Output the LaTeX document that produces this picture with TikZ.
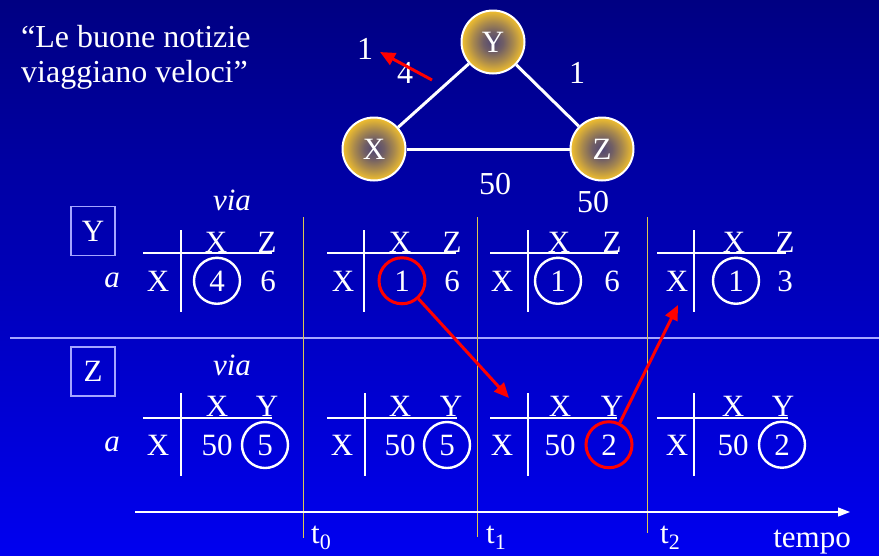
\documentclass[tikz,border=0pt]{standalone}
\usepackage{fontspec}
\setmainfont{Liberation Serif}
\usetikzlibrary{arrows.meta,calc}

\definecolor{bgtop}{RGB}{0,0,130}
\definecolor{bgbot}{RGB}{0,0,240}
\definecolor{ballyellow}{RGB}{242,192,45}
\definecolor{balldark}{RGB}{80,70,115}
\definecolor{sepline}{RGB}{165,165,255}
\definecolor{tickyellow}{RGB}{220,200,80}
\pgfdeclareradialshading{ballshade}{\pgfpoint{0bp}{0bp}}{%
  color(0bp)=(balldark); color(8bp)=(balldark!80!ballyellow);
  color(16bp)=(ballyellow!55!balldark); color(25bp)=(ballyellow);
  color(50bp)=(ballyellow)}

\begin{document}
\begin{tikzpicture}[x=1pt, y=-1pt,
    txt/.style={inner sep=0pt, text=white, font=\fontsize{31pt}{37pt}\selectfont},
    big/.style={txt, font=\fontsize{32pt}{38pt}\selectfont},
    cell/.style={txt, anchor=base},
    hit/.style={cell, circle, draw=white, line width=2.4pt, minimum size=46pt},
    redhit/.style={hit, draw=red, line width=3pt},
    router/.style={circle, draw=white, line width=2pt, shading=ballshade,
                   minimum size=63pt, inner sep=0pt, text=white,
                   font=\fontsize{31pt}{37pt}\selectfont},
    link/.style={white, line width=3pt},
    rule/.style={white, line width=2pt},
    tline/.style={tickyellow, line width=1pt},
    news/.style={red, line width=3pt, -{Triangle[length=15pt,width=13pt]}},
    tag/.style={draw=sepline, line width=1.2pt, inner sep=0pt,
                minimum width=44pt, minimum height=49pt, text=white,
                font=\fontsize{31pt}{37pt}\selectfont}
]

% background
\useasboundingbox (0,0) rectangle (879,555);
\shade[top color=bgtop, bottom color=bgbot] (0,0) rectangle (879,555);

% motto
\node[big, anchor=base west] (motto1) at (21,47) {“Le buone notizie};
\node[big, anchor=base west] (motto2) at (21,82) {viaggiano veloci”};

% the three routers
\node[router] (Y) at (493,42) {Y};
\node[router] (X) at (374,149) {X};
\node[router] (Z) at (602,149) {Z};
\draw[link] (X) -- (Y);
\draw[link] (Y) -- (Z);
\draw[link] (X) -- (Z);

% link costs
\node[big] (c1new) at (365,49) {1};
\node[big] (c1old) at (405,73) {4};
\node[big] (cyz) at (577,73) {1};
\node[big] (cxz) at (495,184) {50};
\node[big] (cxznew) at (593,202) {50};
\coordinate (drop0) at (432,80);
\coordinate (drop1) at (380,52);
\draw[news] (drop0) -- (drop1);

% separator and time marks
\draw[sepline, line width=1.2pt] (10,338) -- (879,338);
\draw[tline] (303,217) -- (303,538);
\draw[tline] (477,217) -- (477,537);
\draw[tline] (647,217) -- (647,533);

% time axis
\coordinate (tstart) at (135,512);
\coordinate (tend) at (850,512);
\draw[white, line width=1.2pt, -{Triangle[length=12pt,width=9pt]}] (tstart) -- (tend);
\node[txt, anchor=base west] (t0) at (311,543) {t\raisebox{-6pt}{\fontsize{22pt}{22pt}\selectfont 0}};
\node[txt, anchor=base west] (t1) at (486,543) {t\raisebox{-6pt}{\fontsize{22pt}{22pt}\selectfont 1}};
\node[txt, anchor=base west] (t2) at (660,543) {t\raisebox{-6pt}{\fontsize{22pt}{22pt}\selectfont 2}};
\node[txt, anchor=base] (tempo) at (812,547) {tempo};

% ---- router Y tables ----
\node[tag] (ytag) at (93,231) {Y};
\node[cell, font=\fontsize{31pt}{37pt}\selectfont\itshape] (yvia) at (232,210) {via};
\node[cell, font=\fontsize{31pt}{37pt}\selectfont\itshape] (ya) at (112,287) {a};

\draw[rule] (181,230) -- (181,312);
\draw[rule] (143,253) -- (272,253);
\node[cell] (y1hx) at (216,252) {X};
\node[cell] (y1hz) at (267,252) {Z};
\node[cell] (y1r) at (158,291) {X};
\node[hit] (y1c1) at (217,291) {4};
\node[cell] (y1c2) at (268,291) {6};

\draw[rule] (364,230) -- (364,312);
\draw[rule] (327,253) -- (456,253);
\node[cell] (y2hx) at (400,252) {X};
\node[cell] (y2hz) at (452,252) {Z};
\node[cell] (y2r) at (343,291) {X};
\node[redhit] (y2c1) at (402,291) {1};
\node[cell] (y2c2) at (452,291) {6};

\draw[rule] (528,230) -- (528,312);
\draw[rule] (490,253) -- (618,253);
\node[cell] (y3hx) at (559,252) {X};
\node[cell] (y3hz) at (612,252) {Z};
\node[cell] (y3r) at (502,291) {X};
\node[hit] (y3c1) at (558,291) {1};
\node[cell] (y3c2) at (612,291) {6};

\draw[rule] (694,230) -- (694,312);
\draw[rule] (657,253) -- (786,253);
\node[cell] (y4hx) at (734,252) {X};
\node[cell] (y4hz) at (785,252) {Z};
\node[cell] (y4r) at (677,291) {X};
\node[hit] (y4c1) at (736,291) {1};
\node[cell] (y4c2) at (785,291) {3};

% ---- router Z tables ----
\node[tag] (ztag) at (93,371.5) {Z};
\node[cell, font=\fontsize{31pt}{37pt}\selectfont\itshape] (zvia) at (232,375) {via};
\node[cell, font=\fontsize{31pt}{37pt}\selectfont\itshape] (za) at (112,451) {a};

\draw[rule] (181,393) -- (181,476);
\draw[rule] (143,418) -- (272,418);
\node[cell] (z1hx) at (217,416) {X};
\node[cell] (z1hy) at (267,416) {Y};
\node[cell] (z1r) at (158,455) {X};
\node[cell] (z1c1) at (217,455) {50};
\node[hit] (z1c2) at (265,455) {5};

\draw[rule] (365,393) -- (365,476);
\draw[rule] (327,418) -- (457,418);
\node[cell] (z2hx) at (400,416) {X};
\node[cell] (z2hy) at (451,416) {Y};
\node[cell] (z2r) at (342,455) {X};
\node[cell] (z2c1) at (400,455) {50};
\node[hit] (z2c2) at (447,455) {5};

\draw[rule] (528,393) -- (528,476);
\draw[rule] (490,418) -- (617,418);
\node[cell] (z3hx) at (560,416) {X};
\node[cell] (z3hy) at (612,416) {Y};
\node[cell] (z3r) at (502,455) {X};
\node[cell] (z3c1) at (560,455) {50};
\node[redhit] (z3c2) at (609,455) {2};

\draw[rule] (694,393) -- (694,476);
\draw[rule] (657,418) -- (788,418);
\node[cell] (z4hx) at (733,416) {X};
\node[cell] (z4hy) at (783,416) {Y};
\node[cell] (z4r) at (677,455) {X};
\node[cell] (z4c1) at (733,455) {50};
\node[hit] (z4c2) at (782,455) {2};

% propagation of the good news
\coordinate (hop1) at (509,398);
\coordinate (hop2) at (678,305);
\draw[news] (y2c1) -- (hop1);
\draw[news] (z3c2) -- (hop2);

\end{tikzpicture}
\end{document}
